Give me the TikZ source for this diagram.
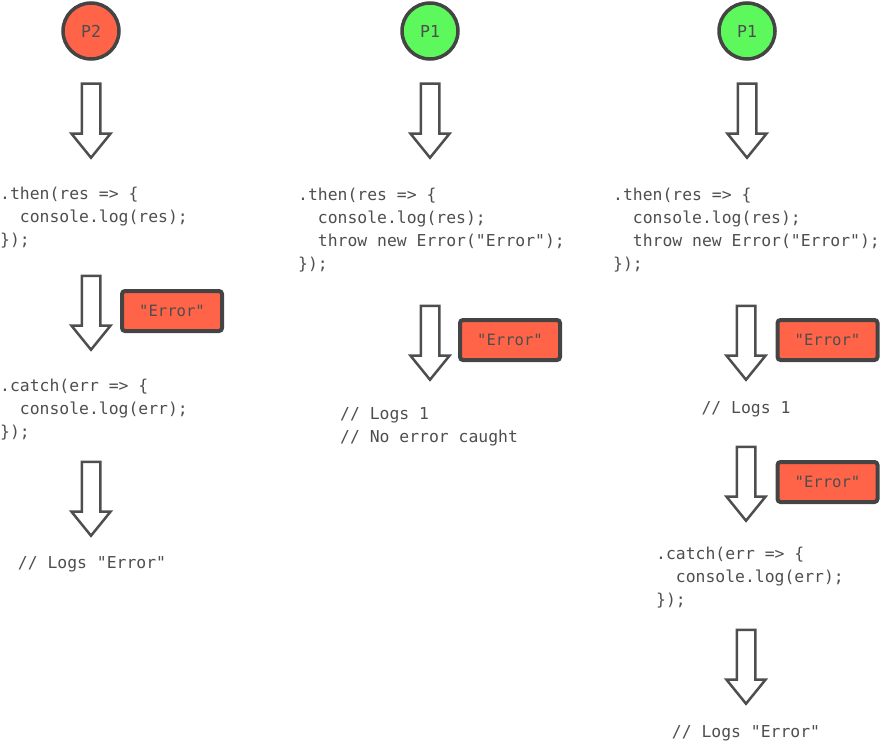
\documentclass[tikz,border=0pt]{standalone}
\usepackage{fontspec}
\setmonofont{DejaVu Sans Mono}
\usetikzlibrary{shapes.arrows}
\definecolor{errred}{RGB}{255,99,72}
\definecolor{okgreen}{RGB}{92,248,92}
\definecolor{edge}{RGB}{68,68,68}
\definecolor{ink}{RGB}{78,78,78}
\newcommand{\codeind}{\hphantom{00}}
\tikzstyle{promise} = [circle, minimum size=56pt, inner sep=0pt, draw=edge, line width=3.5pt, text=ink, font=\ttfamily\fontsize{16.5}{18}\selectfont]
\tikzstyle{rejected} = [promise, fill=errred]
\tikzstyle{resolved} = [promise, fill=okgreen]
\tikzstyle{flow} = [single arrow, rotate=-90, anchor=tail, draw=ink, line width=2.5pt, fill=white, inner sep=8pt, minimum height=74pt, single arrow head extend=10.25pt, single arrow tip angle=78]
\tikzstyle{error} = [rectangle, rounded corners=3pt, minimum width=100pt, minimum height=40pt, draw=edge, line width=4pt, fill=errred, text=ink, font=\ttfamily\fontsize{15.6}{18}\selectfont]
\tikzstyle{code} = [anchor=base west, align=left, inner sep=0pt, text=ink, font=\ttfamily\fontsize{16.4}{23}\selectfont]
\tikzstyle{logs} = [code, anchor=base]

\begin{document}
\begin{tikzpicture}[x=1pt, y=-1pt]
				\useasboundingbox (0,0) rectangle (880,741);
				% rejected promise
				\node (p2) [rejected] at (91,31) {P2};
				\node (f1a) [flow] at (91,82.5) {};
				\node (then1) [code] at (0,245) {.then(res => \{\\ \codeind console.log(res);\\ \});};
				\node (f1b) [flow] at (91,274.5) {};
				\node (err1) [error] at (172,311) {"Error"};
				\node (catch1) [code] at (0,437) {.catch(err => \{\\ \codeind console.log(err);\\ \});};
				\node (f1c) [flow] at (91,460.5) {};
				\node (log1) [logs] at (92,568) {// Logs "Error"};

				% resolved, no catch
				\node (p1a) [resolved] at (430,31) {P1};
				\node (f2a) [flow] at (430,82.5) {};
				\node (then2) [code] at (298,269) {.then(res => \{\\ \codeind console.log(res);\\ \codeind throw new Error("Error");\\ \});};
				\node (f2b) [flow] at (430,304.5) {};
				\node (err2) [error] at (510,340) {"Error"};
				\node (log2) [code] at (340,442) {// Logs 1\\ // No error caught};

				% resolved, then catch
				\node (p1b) [resolved] at (747,31) {P1};
				\node (f3a) [flow] at (747,82.5) {};
				\node (then3) [code] at (613,269) {.then(res => \{\\ \codeind console.log(res);\\ \codeind throw new Error("Error");\\ \});};
				\node (f3b) [flow] at (746,304.5) {};
				\node (err3) [error] at (827.5,340) {"Error"};
				\node (log3) [logs] at (746,413) {// Logs 1};
				\node (f3c) [flow] at (746,445.5) {};
				\node (err4) [error] at (827.5,482) {"Error"};
				\node (catch3) [code] at (656,605) {.catch(err => \{\\ \codeind console.log(err);\\ \});};
				\node (f3d) [flow] at (746,628.5) {};
				\node (log4) [logs] at (746,737) {// Logs "Error"};
\end{tikzpicture}
\end{document}
